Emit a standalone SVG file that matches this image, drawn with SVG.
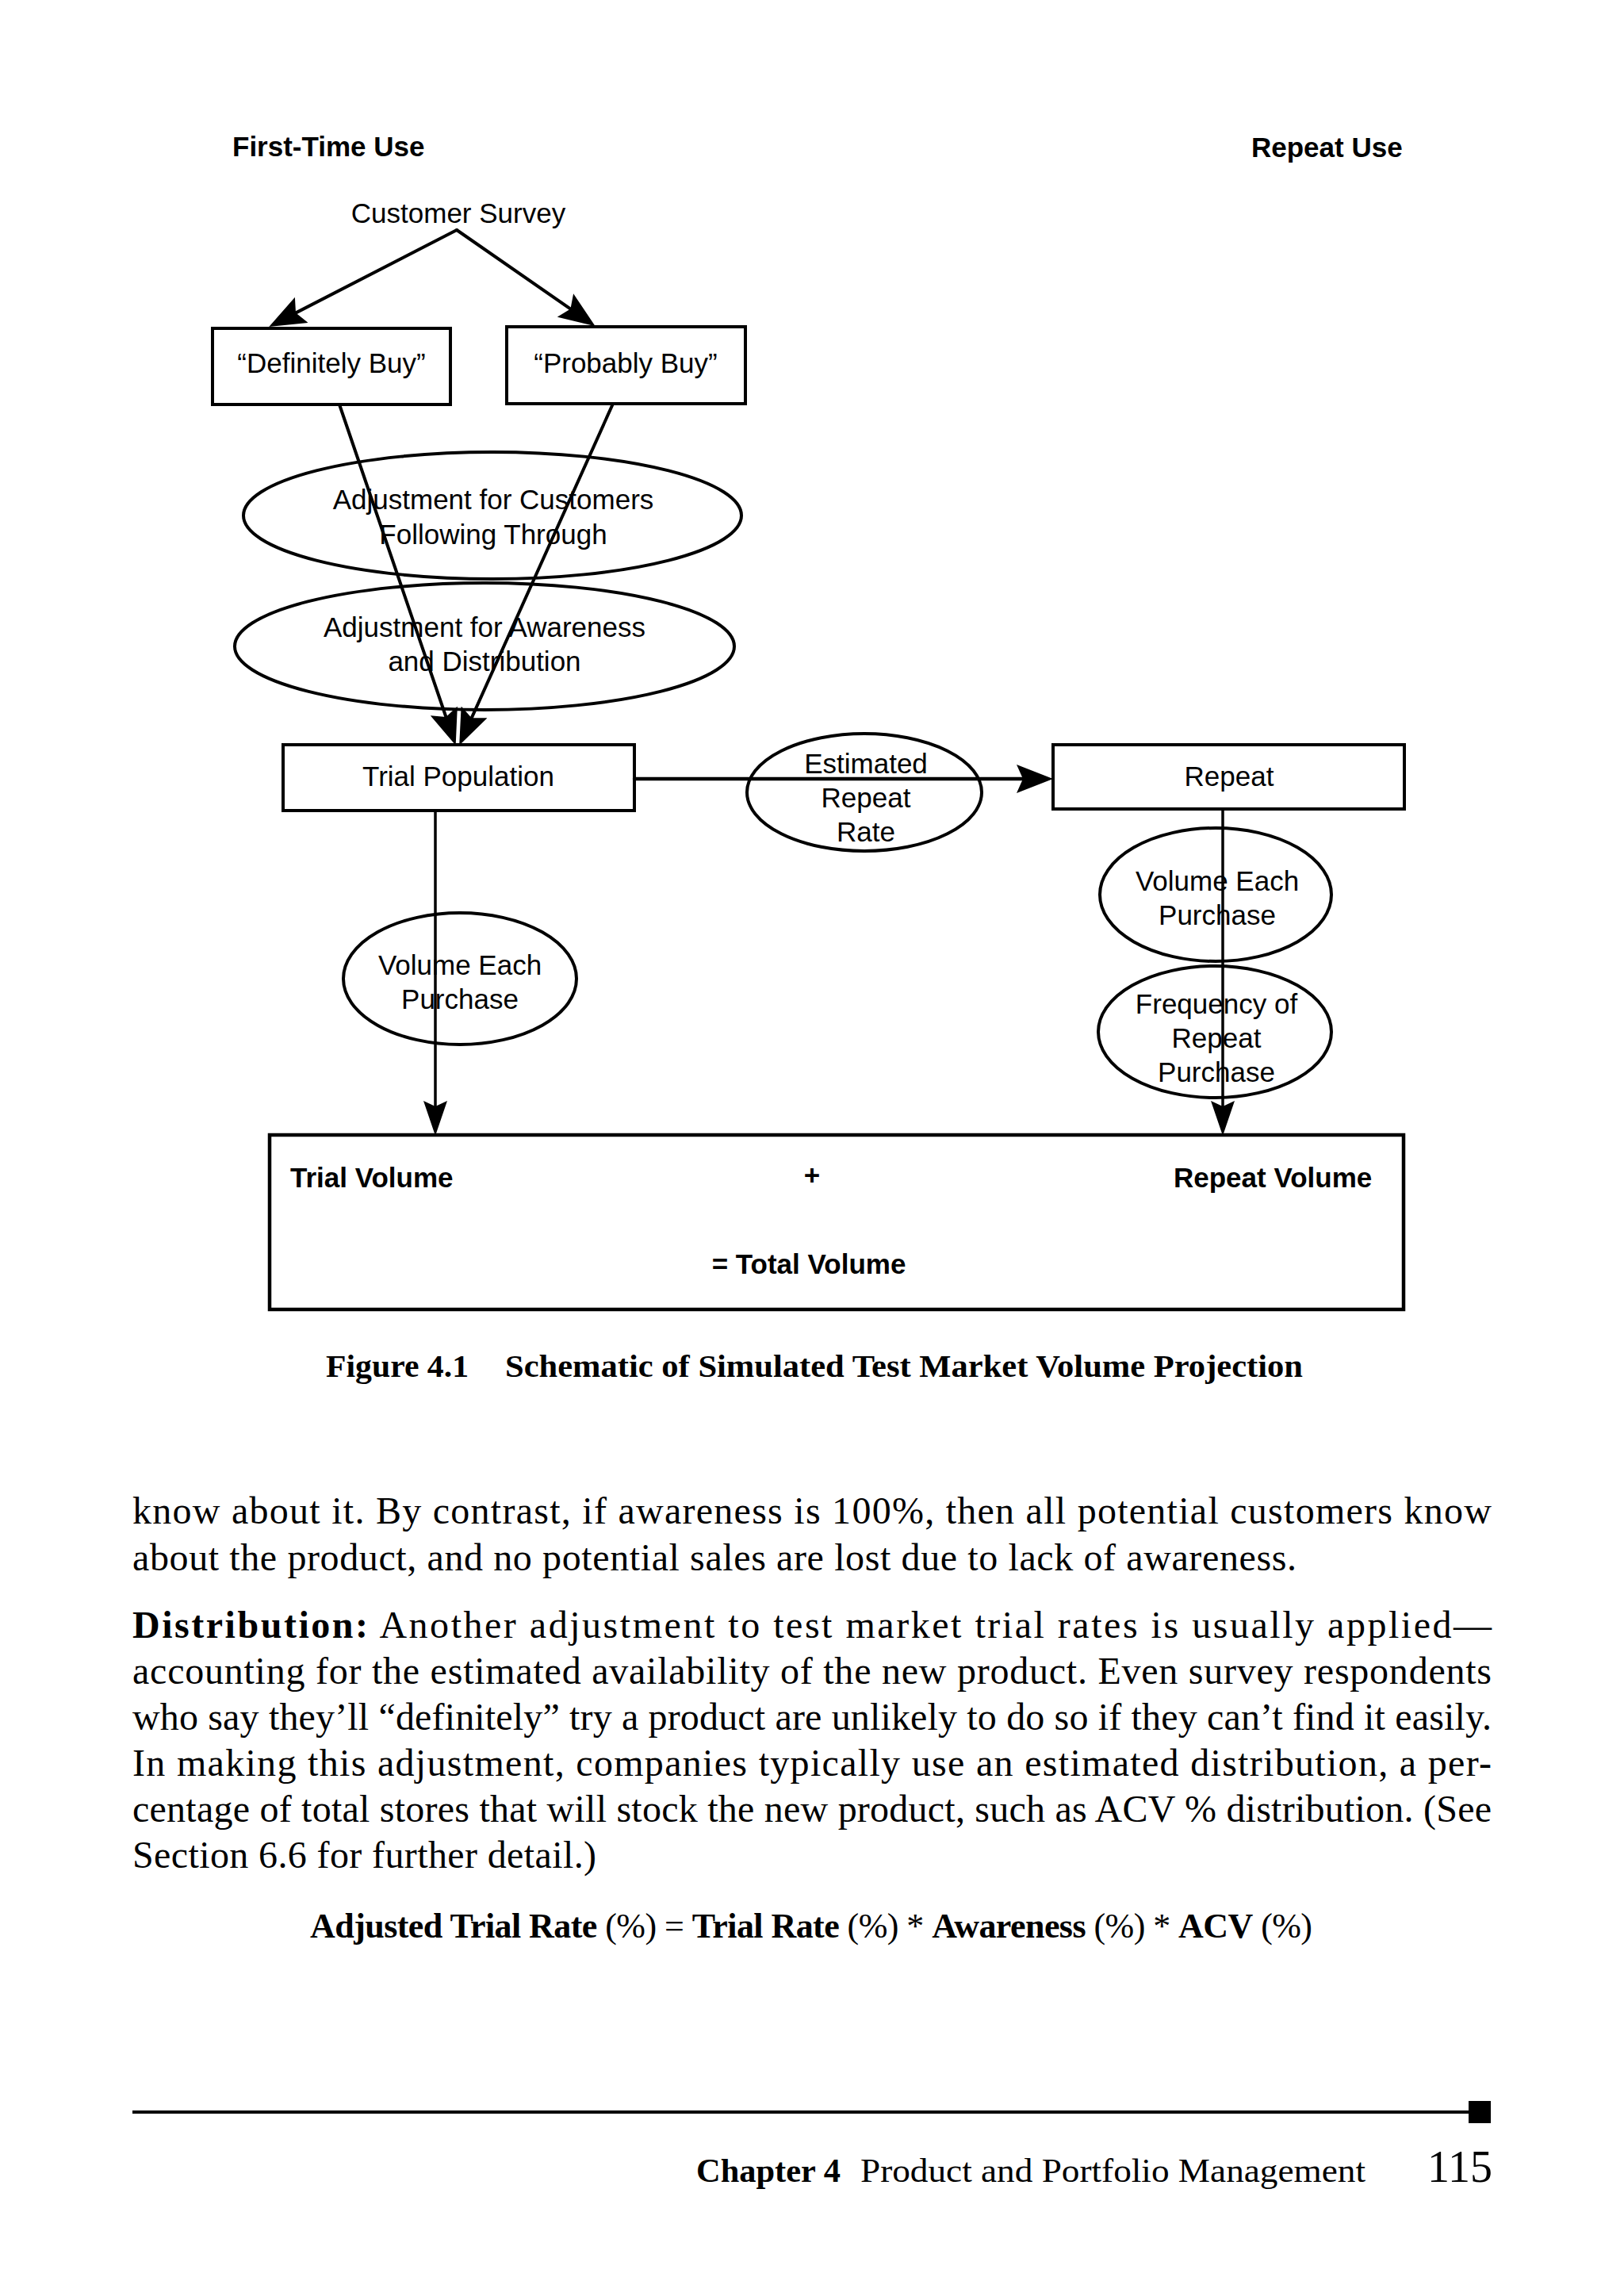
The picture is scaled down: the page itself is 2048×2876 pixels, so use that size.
<svg xmlns="http://www.w3.org/2000/svg" width="2048" height="2876" viewBox="0 0 2048 2876">
<style>
.box{fill:none;stroke:#000;stroke-width:4}
.ell{fill:none;stroke:#000;stroke-width:4}
.lbl{font-family:"Liberation Sans",Arial,sans-serif;font-size:35px;text-anchor:middle;fill:#000}
.hd{font-family:"Liberation Sans",Arial,sans-serif;font-size:35px;font-weight:bold;fill:#000}
.con{stroke:#000;stroke-width:4;fill:none;stroke-linecap:round}
.conv{stroke:#000;stroke-width:3.5;fill:none}
.serif{font-family:"Liberation Serif","Times New Roman",serif;fill:#000}
.body{font-family:"Liberation Serif","Times New Roman",serif;font-size:48px;fill:#000}
.b{font-weight:bold}
</style>
<defs>
<marker id="arrow" markerUnits="userSpaceOnUse" markerWidth="46" markerHeight="36" refX="34" refY="18" orient="auto">
<path d="M0,0 L46,18 L0,36 L8,18 z" fill="#000"/>
</marker>
<marker id="arrowS" markerUnits="userSpaceOnUse" markerWidth="44" markerHeight="30" refX="32" refY="15" orient="auto">
<path d="M0,0 L44,15 L0,30 L7,15 z" fill="#000"/>
</marker>
</defs>
<rect x="0" y="0" width="2048" height="2876" fill="#fff"/>

<g id="headings">
<text class="hd" x="293" y="197">First-Time Use</text>
<text class="hd" x="1578" y="198">Repeat Use</text>
</g>

<g id="customer-survey">
<text class="lbl" x="578" y="281">Customer Survey</text>
</g>

<g id="definitely-buy">
<rect class="box" x="268" y="414" width="300" height="96"/>
<text class="lbl" x="418" y="470">“Definitely Buy”</text>
</g>

<g id="probably-buy">
<rect class="box" x="639" y="412" width="301" height="97"/>
<text class="lbl" x="789" y="470">“Probably Buy”</text>
</g>

<g id="adj-following">
<ellipse class="ell" cx="621" cy="650" rx="314" ry="80"/>
<text class="lbl" x="622" y="642">Adjustment for Customers</text>
<text class="lbl" x="622" y="686">Following Through</text>
</g>

<g id="adj-awareness">
<ellipse class="ell" cx="611" cy="815" rx="315" ry="80"/>
<text class="lbl" x="611" y="803">Adjustment for Awareness</text>
<text class="lbl" x="611" y="846">and Distribution</text>
</g>

<g id="trial-population">
<rect class="box" x="357" y="939" width="443" height="83"/>
<text class="lbl" x="578" y="991">Trial Population</text>
</g>

<g id="estimated-repeat-rate">
<ellipse class="ell" cx="1090" cy="999" rx="148" ry="74"/>
<text class="lbl" x="1092" y="975">Estimated</text>
<text class="lbl" x="1092" y="1018">Repeat</text>
<text class="lbl" x="1092" y="1061">Rate</text>
</g>

<g id="repeat">
<rect class="box" x="1328" y="939" width="443" height="81"/>
<text class="lbl" x="1550" y="991">Repeat</text>
</g>

<g id="volume-each-trial">
<ellipse class="ell" cx="580" cy="1234" rx="147" ry="83"/>
<text class="lbl" x="580" y="1229">Volume Each</text>
<text class="lbl" x="580" y="1272">Purchase</text>
</g>

<g id="volume-each-repeat">
<ellipse class="ell" cx="1533" cy="1128" rx="146" ry="84"/>
<text class="lbl" x="1535" y="1123">Volume Each</text>
<text class="lbl" x="1535" y="1166">Purchase</text>
</g>

<g id="frequency-repeat">
<ellipse class="ell" cx="1532" cy="1301" rx="147" ry="83"/>
<text class="lbl" x="1534" y="1278">Frequency of</text>
<text class="lbl" x="1534" y="1321">Repeat</text>
<text class="lbl" x="1534" y="1364">Purchase</text>
</g>

<g id="total-volume">
<rect class="box" x="340" y="1431" width="1430" height="220" style="stroke-width:4.5"/>
<text class="hd" x="366" y="1497">Trial Volume</text>
<text class="hd" x="1024" y="1494" text-anchor="middle">+</text>
<text class="hd" x="1480" y="1497">Repeat Volume</text>
<text class="hd" x="1020" y="1606" text-anchor="middle">= Total Volume</text>
</g>

<g id="connectors">
<path class="con" d="M576,290 L349.9,406.4" marker-end="url(#arrow)"/>
<path class="con" d="M576,290 L740.8,404.3" marker-end="url(#arrow)"/>
<path class="con" d="M428,510 L570.8,928.5" marker-end="url(#arrow)"/>
<path class="con" d="M773,509 L584.1,928.9" marker-end="url(#arrow)"/>
<path class="con" d="M800,982 L1316,982" style="stroke-width:4.5" marker-end="url(#arrow)"/>
<path class="conv" d="M549,1022 L549,1420" marker-end="url(#arrowS)"/>
<path class="conv" d="M1542,1020 L1542,1420" marker-end="url(#arrowS)"/>
</g>

<g id="caption">
<text class="serif b" x="411" y="1736" font-size="40" textLength="180" lengthAdjust="spacingAndGlyphs">Figure 4.1</text>
<text class="serif b" x="637" y="1736" font-size="40" textLength="1006" lengthAdjust="spacingAndGlyphs">Schematic of Simulated Test Market Volume Projection</text>
</g>

<g id="body-text">
<text class="body" x="167" y="1921" textLength="1714" lengthAdjust="spacing">know about it. By contrast, if awareness is 100%, then all potential customers know</text>
<text class="body" x="167" y="1980" textLength="1468" lengthAdjust="spacing">about the product, and no potential sales are lost due to lack of awareness.</text>
<text class="body" x="167" y="2065" textLength="1714" lengthAdjust="spacing"><tspan class="b">Distribution:</tspan> Another adjustment to test market trial rates is usually applied—</text>
<text class="body" x="167" y="2123" textLength="1714" lengthAdjust="spacing">accounting for the estimated availability of the new product. Even survey respondents</text>
<text class="body" x="167" y="2181" textLength="1714" lengthAdjust="spacing">who say they’ll “definitely” try a product are unlikely to do so if they can’t find it easily.</text>
<text class="body" x="167" y="2239" textLength="1714" lengthAdjust="spacing">In making this adjustment, companies typically use an estimated distribution, a per-</text>
<text class="body" x="167" y="2297" textLength="1714" lengthAdjust="spacing">centage of total stores that will stock the new product, such as ACV % distribution. (See</text>
<text class="body" x="167" y="2355" textLength="585" lengthAdjust="spacing">Section 6.6 for further detail.)</text>
<text class="body" x="391" y="2443" font-size="44" textLength="1264" lengthAdjust="spacing" style="font-size:44px"><tspan class="b">Adjusted Trial Rate</tspan> (%) = <tspan class="b">Trial Rate</tspan> (%) * <tspan class="b">Awareness</tspan> (%) * <tspan class="b">ACV</tspan> (%)</text>
</g>

<g id="footer">
<rect x="167" y="2661" width="1690" height="4" fill="#000"/>
<rect x="1852" y="2649" width="28" height="28" fill="#000"/>
<text class="serif b" x="878" y="2751" font-size="42" textLength="182" lengthAdjust="spacingAndGlyphs">Chapter 4</text>
<text class="serif" x="1085" y="2751" font-size="42" textLength="637" lengthAdjust="spacingAndGlyphs">Product and Portfolio Management</text>
<text class="serif" x="1800" y="2751" font-size="58" textLength="82" lengthAdjust="spacingAndGlyphs">115</text>
</g>
</svg>
